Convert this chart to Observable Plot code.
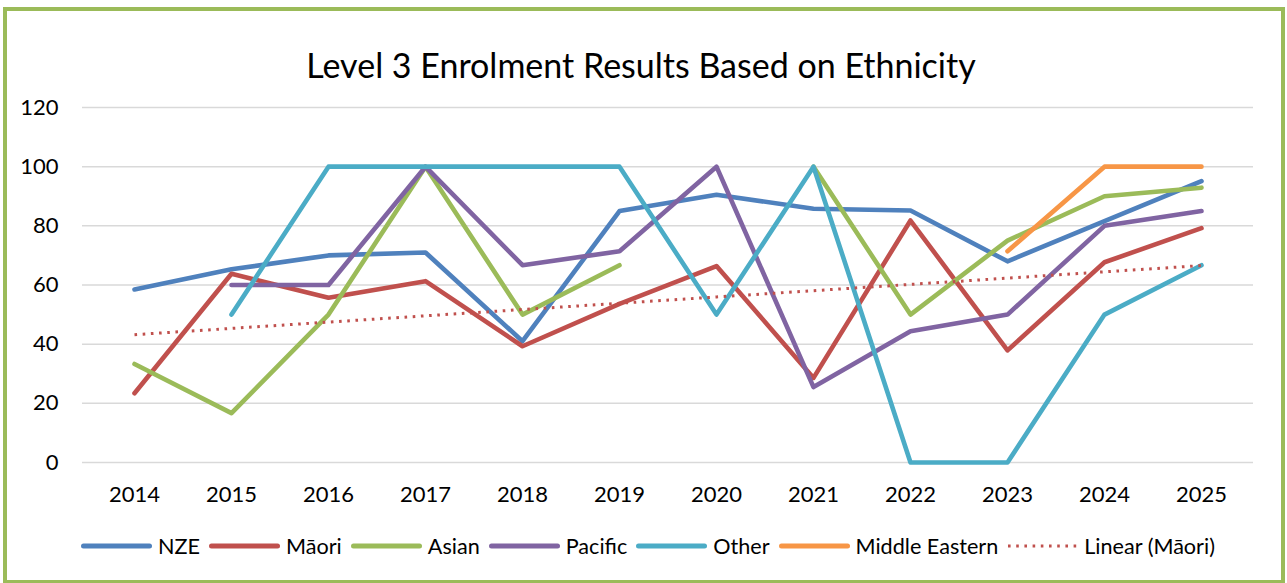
<!DOCTYPE html>
<html>
<head>
<meta charset="utf-8">
<script src="https://cdn.jsdelivr.net/npm/d3@7"></script>
<script src="https://cdn.jsdelivr.net/npm/@observablehq/plot@0.6"></script>
<style>
  body { margin: 0; background: #fff; font-family: Lato, "Open Sans", sans-serif; }
  #wrap { position: relative; width: 1287px; height: 583px; overflow: hidden; background: #fff; }
  #frame { position: absolute; left: 3px; top: 7px; width: 1274px; height: 569px; border: 4px solid #9BBB59; }
  #title { position: absolute; left: 0; top: 45px; width: 1282px; text-align: center; font-size: 34px; line-height: 40px; color: #000; }
  #chart { position: absolute; left: 0; top: 0; }
  #legend { position: absolute; left: 0; top: 533px; width: 1296px; display: flex; justify-content: center; align-items: center; font-size: 21.6px; line-height: 26px; color: #000; }
  .item { display: flex; align-items: center; }
  .item svg { display: block; margin-right: 6px; }
  .item span { margin-right: 9px; white-space: nowrap; }
</style>
</head>
<body>
<div id="wrap">
  <div id="frame"></div>
  <div id="title">Level 3 Enrolment Results Based on Ethnicity</div>
  <div id="chart"></div>
  <div id="legend"></div>
</div>
<script>
// ---- data ----
const years = ["2014","2015","2016","2017","2018","2019","2020","2021","2022","2023","2024","2025"];
const yTicks = [0, 20, 40, 60, 80, 100, 120];
const seriesNames = ["NZE", "Māori", "Asian", "Pacific", "Other", "Middle Eastern"];
const seriesColors = ["#4F81BD", "#C0504D", "#9BBB59", "#8064A2", "#4BACC6", "#F79646"];
const trendName = "Linear (Māori)";

const nze           = [58.5, 65.3, 70.0, 71.0, 41.0, 85.0, 90.5, 85.8, 85.2, 68.0, 81.6, 95.1];
const maori         = [23.4, 63.8, 55.7, 61.3, 39.3, 53.6, 66.4, 28.6, 81.8, 37.9, 67.7, 79.2];
const asian         = [33.3, 16.7, 50.0, 100, 50.0, 66.7, null, 100, 50.0, 75.0, 90.0, 92.9];
const pacific       = [null, 60.0, 60.0, 100, 66.7, 71.4, 100, 25.5, 44.4, 50.0, 80.0, 85.0];
const other         = [null, 50.0, 100, 100, 100, 100, 50.0, 100, 0, 0, 50.0, 66.7];
const middleEastern = [null, null, null, null, null, null, null, null, null, 71.4, 100, 100];

const seriesValues = [nze, maori, asian, pacific, other, middleEastern];

// long table
const rows = [];
seriesNames.forEach((name, s) => {
  years.forEach((yr, i) => rows.push({series: name, year: yr, value: seriesValues[s][i]}));
});

// linear trend of Māori (least squares)
const idx = d3.range(years.length);
const mx = d3.mean(idx), my = d3.mean(maori);
const slope = d3.sum(idx, i => (i - mx) * (maori[i] - my)) / d3.sum(idx, i => (i - mx) ** 2);
const trend = years.map((yr, i) => ({year: yr, value: my + slope * (i - mx)}));

const chart = Plot.plot({
  width: 1287,
  height: 520,
  marginLeft: 82,
  marginRight: 34,
  marginTop: 107,
  marginBottom: 58,
  style: {fontFamily: "Lato, 'Open Sans', sans-serif", fontSize: "22px", color: "#000", background: "transparent", overflow: "visible"},
  x: {type: "point", domain: years, padding: 0.5, label: null},
  y: {domain: [0, 120], label: null},
  color: {domain: seriesNames, range: seriesColors},
  marks: [
    Plot.gridY(yTicks, {stroke: "#d9d9d9", strokeOpacity: 1, strokeWidth: 1.5}),
    Plot.axisY(yTicks, {tickSize: 0, tickPadding: 24, label: null, fontSize: 22}),
    Plot.axisX({tickSize: 0, tickPadding: 24, label: null, fontSize: 22}),
    Plot.line(rows, {x: "year", y: "value", z: "series", stroke: "series", strokeWidth: 4.6, strokeLinecap: "round", strokeLinejoin: "round"}),
    Plot.line(trend, {x: "year", y: "value", stroke: "#C0504D", strokeWidth: 3, strokeDasharray: "2.6 5.6", strokeLinecap: "butt"})
  ]
});
document.getElementById("chart").appendChild(chart);

// legend
const legend = d3.select("#legend");
seriesNames.forEach((name, i) => {
  const it = legend.append("div").attr("class", "item");
  const sv = it.append("svg").attr("width", 71).attr("height", 10);
  sv.append("line").attr("x1", 2.5).attr("x2", 68.5).attr("y1", 5).attr("y2", 5)
    .attr("stroke", seriesColors[i]).attr("stroke-width", 5).attr("stroke-linecap", "round");
  it.append("span").text(name);
});
{
  const it = legend.append("div").attr("class", "item");
  const sv = it.append("svg").attr("width", 71).attr("height", 10);
  sv.append("line").attr("x1", 1).attr("x2", 71).attr("y1", 5).attr("y2", 5)
    .attr("stroke", "#C0504D").attr("stroke-width", 3).attr("stroke-dasharray", "2.6 5.6");
  it.append("span").style("margin-right", "0").text(trendName);
}
</script>
</body>
</html>
